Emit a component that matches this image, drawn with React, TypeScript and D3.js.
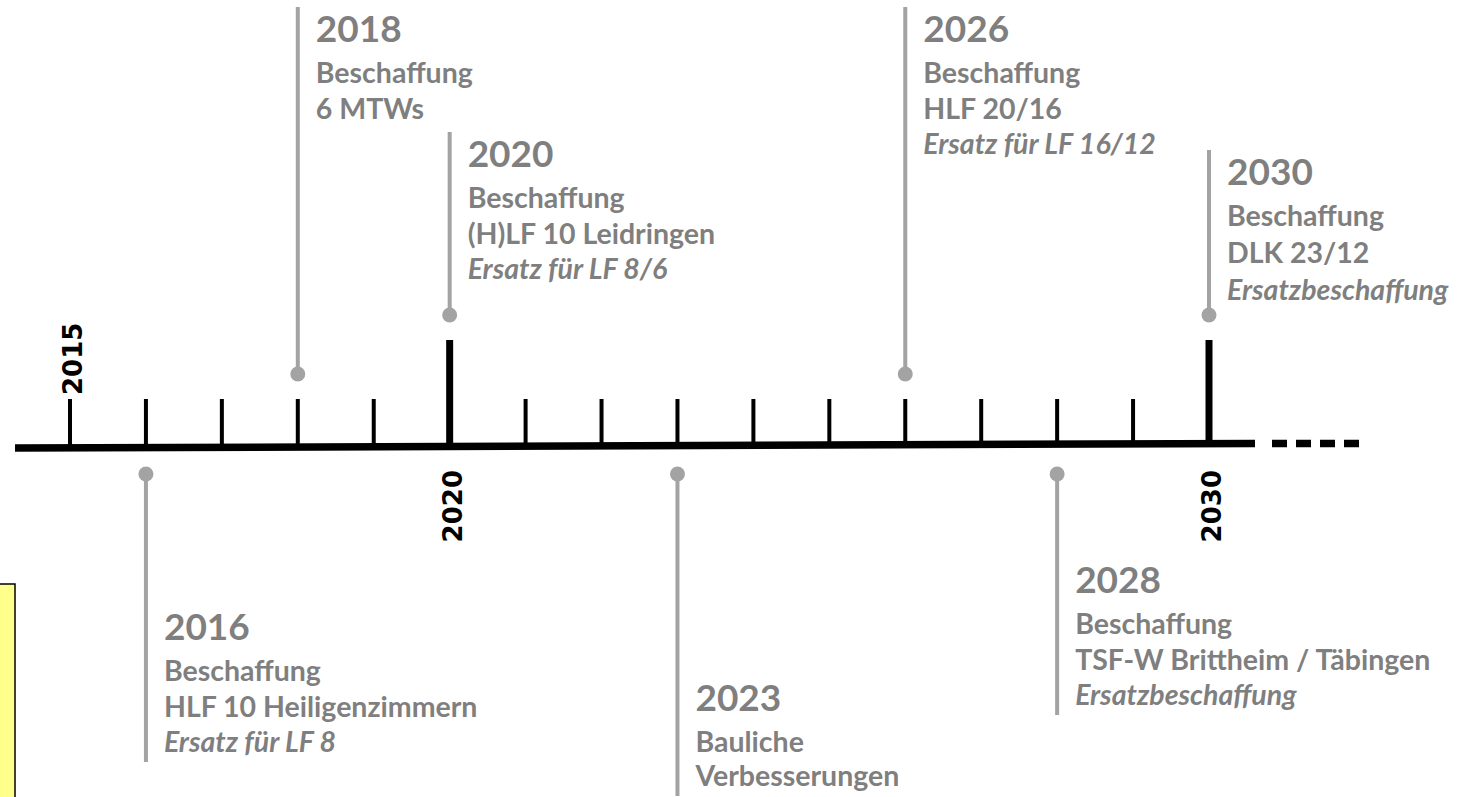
import React from 'react';
import * as d3 from 'd3';

// timeline events (top-level data)
const eventYears = [2016, 2018, 2020, 2023, 2026, 2028, 2030];
const eventSides = ['below', 'above', 'above', 'below', 'above', 'below', 'above'];
const eventLines: string[][] = [
  ['Beschaffung', 'HLF 10 Heiligenzimmern'],
  ['Beschaffung', '6 MTWs'],
  ['Beschaffung', '(H)LF 10 Leidringen'],
  ['Bauliche', 'Verbesserungen'],
  ['Beschaffung', 'HLF 20/16'],
  ['Beschaffung', 'TSF-W Brittheim / Täbingen'],
  ['Beschaffung', 'DLK 23/12'],
];
const eventNotes = ['Ersatz für LF 8', '', 'Ersatz für LF 8/6', '', 'Ersatz für LF 16/12', 'Ersatzbeschaffung', 'Ersatzbeschaffung'];

const axisLabelYears = [2015, 2020, 2030];
const majorYears = [2020, 2030];

// label layout: baseline of the year heading, gap between rows
const labelBaseline: Record<number, number> = { 2016: 640, 2018: 42, 2020: 167, 2023: 711, 2026: 42, 2028: 593, 2030: 185 };
const rowGap: Record<number, number> = { 2023: 34, 2030: 37 };

const W = 1483;
const H = 797;

const GREY_LINE = '#a3a3a3';
const GREY_TEXT = '#7f7f7f';
const FONT = 'Lato, "Open Sans", sans-serif';

export default function App() {
  const x = d3.scaleLinear().domain([2015, 2030]).range([70, 1209]);
  // axis line sinks very slightly to the left
  const lineY = d3.scaleLinear().domain([x(2015) - 55, x(2030) + 46]).range([448, 443.5]);
  const tickYears = x.ticks(15);

  const minorTop = 399;
  const majorTop = 340;
  const belowDot = 474;

  const x0 = x(2015) - 55;
  const x1 = x(2030) + 46;

  return (
    <div style={{ position: 'absolute', left: 0, top: 0 }}>
      <svg width={W} height={H} style={{ display: 'block' }}>
        <rect width={W} height={H} fill="#fff" />

        {/* yellow note box at the left edge */}
        <rect x={-20} y={584} width={35} height={260} fill="#ffff8c" stroke="#000" strokeWidth={1.5} />

        {/* main axis */}
        <line x1={x0} y1={lineY(x0)} x2={x1} y2={lineY(x1)} stroke="#000" strokeWidth={7.5} />
        <line
          x1={x1 + 17}
          y1={lineY(x1)}
          x2={x(2032) + 3}
          y2={lineY(x1)}
          stroke="#000"
          strokeWidth={7.5}
          strokeDasharray="15,9"
        />

        {tickYears.map((yr) => {
          const major = majorYears.includes(yr);
          return (
            <line
              key={yr}
              x1={x(yr)}
              x2={x(yr)}
              y1={major ? majorTop : minorTop}
              y2={lineY(x(yr))}
              stroke="#000"
              strokeWidth={major ? 7 : 4}
            />
          );
        })}

        {axisLabelYears.map((yr) => {
          const above = yr === 2015;
          return (
            <text
              key={yr}
              transform={`translate(${x(yr) + 12},${above ? 395 : 470}) rotate(-90)`}
              textAnchor={above ? 'start' : 'end'}
              fontFamily='"DejaVu Sans", Verdana, sans-serif'
              fontWeight="bold"
              fontSize={26}
              fill="#000"
            >
              {yr}
            </text>
          );
        })}

        {eventYears.map((yr, i) => {
          const side = eventSides[i];
          const cx = x(yr);
          const base = labelBaseline[yr];
          const gap = rowGap[yr] ?? 35.5;
          const rows = [...eventLines[i]];
          const note = eventNotes[i];
          const rowYs = rows.map((_, k) => base + 41 + k * gap);
          const noteY = base + 41 + rows.length * gap;
          const lastY = note ? noteY : rowYs[rowYs.length - 1];
          const tickTop = majorYears.includes(yr) ? majorTop : minorTop;
          const dotY = side === 'above' ? tickTop - 25 : belowDot;
          const stemTop = side === 'above' ? base - 35 : dotY;
          const stemBottom = side === 'above' ? dotY : Math.min(H, lastY + 10);
          const tx = cx + 18;
          return (
            <g key={yr}>
              <line x1={cx} x2={cx} y1={stemTop} y2={stemBottom} stroke={GREY_LINE} strokeWidth={4} />
              <circle cx={cx} cy={dotY} r={7.5} fill={GREY_LINE} />
              <text x={tx} y={base} fontFamily={FONT} fontWeight="bold" fontSize={37} fill={GREY_TEXT}>
                {yr}
              </text>
              {rows.map((r, k) => (
                <text key={k} x={tx} y={rowYs[k]} fontFamily={FONT} fontWeight="bold" fontSize={28.5} fill={GREY_TEXT}>
                  {r}
                </text>
              ))}
              {note && (
                <text x={tx} y={noteY} fontFamily={FONT} fontWeight="bold" fontStyle="italic" fontSize={28.5} fill={GREY_TEXT}>
                  {note}
                </text>
              )}
            </g>
          );
        })}
      </svg>
    </div>
  );
}
